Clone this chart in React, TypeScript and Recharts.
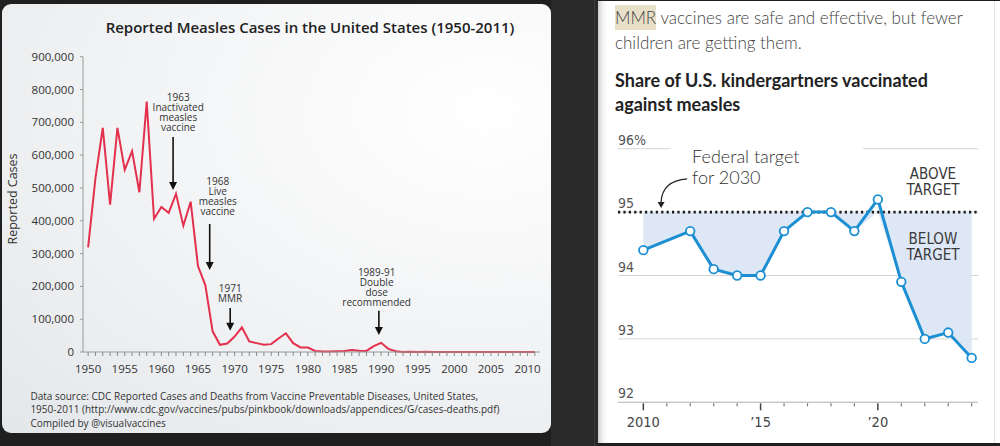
import React from 'react';
import {
  LineChart, Line, XAxis, YAxis, ReferenceLine, ReferenceDot, ComposedChart, Area, CartesianGrid,
} from 'recharts';

// Left chart: reported measles cases in the US
const caseYears = [
  1950, 1951, 1952, 1953, 1954, 1955, 1956, 1957, 1958, 1959,
  1960, 1961, 1962, 1963, 1964, 1965, 1966, 1967, 1968, 1969,
  1970, 1971, 1972, 1973, 1974, 1975, 1976, 1977, 1978, 1979,
  1980, 1981, 1982, 1983, 1984, 1985, 1986, 1987, 1988, 1989,
  1990, 1991, 1992, 1993, 1994, 1995, 1996, 1997, 1998, 1999,
  2000, 2001, 2002, 2003, 2004, 2005, 2006, 2007, 2008, 2009,
  2010, 2011,
];
const caseCounts = [
  319000, 530000, 683000, 449000, 683000, 555000, 612000, 487000, 763000, 406000,
  442000, 424000, 482000, 385000, 458000, 262000, 204000, 63000, 22000, 26000,
  47000, 75000, 32000, 27000, 22000, 24000, 41000, 57000, 27000, 14000,
  13500, 3000, 1700, 1500, 2600, 2800, 6300, 3700, 3400, 18000,
  28000, 9600, 2200, 300, 1000, 300, 500, 140, 100, 100,
  90, 120, 40, 60, 40, 70, 55, 40, 140, 70,
  60, 220,
];
const caseTicks = [0, 100000, 200000, 300000, 400000, 500000, 600000, 700000, 800000, 900000];

// annotations on the left chart
const noteLabels = [
  ['1963', 'Inactivated', 'measles', 'vaccine'],
  ['1968', 'Live', 'measles', 'vaccine'],
  ['1971', 'MMR'],
  ['1989-91', 'Double', 'dose', 'recommended'],
];
const noteTextYears = [1962.3, 1967.7, 1969.4, 1989.4];
const noteTextValues = [776000, 519000, 195000, 243000];
const noteArrowYears = [1961.6, 1966.6, 1969.4, 1989.7];
const noteArrowTops = [655000, 390000, 134000, 126000];
const noteArrowTips = [494000, 250000, 65000, 52000];

// Right chart: share of kindergartners vaccinated
const vacYears = [2010, 2012, 2013, 2014, 2015, 2016, 2017, 2018, 2019, 2020, 2021, 2022, 2023, 2024];
const vacShares = [94.4, 94.7, 94.1, 94.0, 94.0, 94.7, 95.0, 95.0, 94.7, 95.2, 93.9, 93.0, 93.1, 92.7];
const targetShare = 95;
const shareTicks = [92, 93, 94, 95, 96];
const schoolYearTicks = [2010, 2011, 2012, 2013, 2014, 2015, 2016, 2017, 2018, 2019, 2020, 2021, 2022, 2023, 2024];

const caseData = caseYears.map((year, i) => ({ year, cases: caseCounts[i] }));
const vacData = vacYears.map((year, i) => ({
  year,
  share: vacShares[i],
  gap: [Math.min(vacShares[i], targetShare), targetShare],
}));

const LEFT_FONT = '"Open Sans", "DejaVu Sans", sans-serif';
const RIGHT_FONT = 'Lato, "Noto Sans", sans-serif';
const NARROW_FONT = '"Liberation Sans Narrow", "DejaVu Sans Condensed", Roboto, sans-serif';

const YearTick = (props: any) => {
  const { x, y, payload } = props;
  const v = payload.value;
  return (
    <g>
      <line x1={x} y1={y} x2={x} y2={y + 4} stroke="#8a8a8a" />
      {v % 5 === 0 && (
        <text x={x} y={y + 20.5} textAnchor="middle" fontSize={11.5} fill="#333" fontFamily={LEFT_FONT}>{v}</text>
      )}
    </g>
  );
};

const Arrow = (props: any) => {
  const { x1, y1, x2, y2 } = props;
  return (
    <g>
      <line x1={x1} y1={y1} x2={x2} y2={y2 - 6} stroke="#111" strokeWidth={1.6} />
      <polygon points={`${x2 - 4},${y2 - 8} ${x2 + 4},${y2 - 8} ${x2},${y2}`} fill="#111" />
    </g>
  );
};

const noteShape = (lines: string[]) => (props: any) => (
  <text x={props.cx} y={props.cy} textAnchor="middle" fontSize={10} fill="#333" fontFamily={LEFT_FONT}>
    {lines.map((l, i) => (
      <tspan key={i} x={props.cx} dy={i === 0 ? 3.5 : 10}>{l}</tspan>
    ))}
  </text>
);

const ShareTick = (props: any) => {
  const { x, y, payload } = props;
  return (
    <text x={x} y={y - 4} fontSize={14} fill="#555" fontFamily={NARROW_FONT}>
      {payload.value === 96 ? '96%' : payload.value}
    </text>
  );
};

const SchoolYearTick = (props: any) => {
  const { x, y, payload } = props;
  const v = payload.value;
  const major = v % 5 === 0;
  return (
    <g>
      <line x1={x} y1={y + 1} x2={x} y2={y + (major ? 8 : 4)} stroke={major ? '#444' : '#777'} strokeWidth={major ? 1.5 : 1.2} />
      {major && (
        <text x={x} y={y + 24.5} textAnchor="middle" fontSize={14.5} fill="#444" fontFamily={NARROW_FONT}>
          {v === 2010 ? '2010' : '\u2019' + String(v).slice(2)}
        </text>
      )}
    </g>
  );
};

const federalNote = (props: any) => {
  const { cx, cy } = props;
  const tx = cx - 31;
  const ty = cy + 51;
  return (
    <g>
      <rect x={cx - 22} y={cy - 12} width={193} height={7} fill="#fff" />
      <text x={cx} y={cy + 6} fontSize={18} fill="#333" fontFamily={RIGHT_FONT} fontWeight={300}>Federal target</text>
      <text x={cx} y={cy + 27} fontSize={18} fill="#333" fontFamily={RIGHT_FONT} fontWeight={300}>for 2030</text>
      <path d={`M ${cx - 5} ${cy + 22} Q ${cx - 30} ${cy + 24} ${tx} ${ty - 6}`} fill="none" stroke="#222" strokeWidth={1.2} />
      <polygon points={`${tx - 3.5},${ty - 6} ${tx + 3.5},${ty - 6} ${tx},${ty}`} fill="#222" />
    </g>
  );
};

const zoneNote = (lines: string[]) => (props: any) => (
  <text x={props.cx} y={props.cy} textAnchor="middle" fontSize={15} fill="#3a3a3a" fontFamily={NARROW_FONT}>
    {lines.map((l, i) => (
      <tspan key={i} x={props.cx} dy={i === 0 ? 5 : 15.5}>{l}</tspan>
    ))}
  </text>
);

export default function App() {
  return (
    <div style={{ position: 'absolute', left: 0, top: 0, width: 1000, height: 446, background: '#1f1f1f', overflow: 'hidden' }}>
      {/* left card */}
      <div
        style={{
          position: 'absolute', left: 2, top: 4, width: 549, height: 429, borderRadius: 9, overflow: 'hidden',
          background: 'radial-gradient(ellipse at 88% 25%, #ffffff 0%, #f5f6f7 40%, #e4e7ea 100%)',
        }}
      >
        <div
          style={{
            position: 'absolute', left: 0, top: 13, width: 616, textAlign: 'center', fontFamily: LEFT_FONT,
            fontSize: 15, fontWeight: 600, color: '#222', lineHeight: '20px',
          }}
        >
          Reported Measles Cases in the United States (1950-2011)
        </div>
        <div
          style={{
            position: 'absolute', left: 10.7 - 60, top: 195 - 8, width: 120, textAlign: 'center', fontFamily: LEFT_FONT,
            fontSize: 12.5, color: '#333', lineHeight: '16px', transform: 'rotate(-90deg)',
          }}
        >
          Reported Cases
        </div>
        <LineChart
          width={549}
          height={428}
          data={caseData}
          margin={{ top: 52.7, right: 11, bottom: 50, left: 0 }}
          style={{ position: 'absolute', left: 0, top: 0 }}
        >
          <XAxis
            dataKey="year"
            type="number"
            domain={[1949.3, 2011.7]}
            ticks={caseYears}
            interval={0}
            tick={<YearTick />}
            tickLine={false}
            tickSize={0}
            tickMargin={0}
            height={30}
            axisLine={{ stroke: '#9a9a9a' }}
          />
          <YAxis
            domain={[0, 900000]}
            ticks={caseTicks}
            width={81}
            tickSize={3}
            tickMargin={6}
            tickFormatter={(v: number) => v.toLocaleString('en-US')}
            tick={{ fontSize: 11.5, fill: '#333', fontFamily: LEFT_FONT }}
            tickLine={{ stroke: '#9a9a9a' }}
            axisLine={{ stroke: '#9a9a9a' }}
          />
          <Line type="linear" dataKey="cases" stroke="#e3304d" strokeWidth={2} dot={false} isAnimationActive={false} />
          {noteArrowYears.map((yr, i) => (
            <ReferenceLine
              key={'a' + i}
              segment={[{ x: yr, y: noteArrowTops[i] }, { x: yr, y: noteArrowTips[i] }]}
              shape={<Arrow />}
            />
          ))}
          {noteLabels.map((lines, i) => (
            <ReferenceDot key={'n' + i} x={noteTextYears[i]} y={noteTextValues[i]} r={0} shape={noteShape(lines)} />
          ))}
        </LineChart>
        <div
          style={{
            position: 'absolute', left: 28.4, top: 386, fontFamily: LEFT_FONT, fontSize: 10, color: '#333',
            lineHeight: '13.4px', whiteSpace: 'nowrap',
          }}
        >
          <div>Data source: CDC Reported Cases and Deaths from Vaccine Preventable Diseases, United States,</div>
          <div>1950-2011 (http://www.cdc.gov/vaccines/pubs/pinkbook/downloads/appendices/G/cases-deaths.pdf)</div>
          <div>Compiled by @visualvaccines</div>
        </div>
      </div>

      {/* divider strip */}
      <div style={{ position: 'absolute', left: 551, top: 0, width: 47, height: 446, background: '#2a2a2a' }} />
      <div style={{ position: 'absolute', left: 594, top: 0, width: 1, height: 446, background: '#3b3b3b' }} />

      {/* right card */}
      <div
        style={{
          position: 'absolute', left: 598, top: 1, width: 402, height: 442, overflow: 'hidden',
          background: 'linear-gradient(to right, #cfcfcf 0px, #f4f4f4 5px, #ffffff 10px)',
        }}
      >
        <div style={{ position: 'absolute', left: 396, top: 0, width: 1, height: 442, background: '#e6e6e6' }} />
        <div
          style={{
            position: 'absolute', left: 17, top: 4, fontFamily: RIGHT_FONT, fontWeight: 300, fontSize: 17,
            color: '#444', lineHeight: '25px', whiteSpace: 'nowrap',
          }}
        >
          <div>
            <span style={{ background: '#e8dfc9', padding: '2px 0' }}>MMR</span> vaccines are safe and effective, but fewer
          </div>
          <div>children are getting them.</div>
        </div>
        <div
          style={{
            position: 'absolute', left: 17, top: 67, fontFamily: RIGHT_FONT, fontWeight: 700, fontSize: 18,
            color: '#222', lineHeight: '24px', whiteSpace: 'nowrap',
          }}
        >
          <div>Share of U.S. kindergartners vaccinated</div>
          <div>against measles</div>
        </div>
        <ComposedChart
          width={402}
          height={442}
          data={vacData}
          margin={{ top: 147.7, right: 22, bottom: 10.7, left: 0 }}
          style={{ position: 'absolute', left: 0, top: 0 }}
        >
          <CartesianGrid vertical={false} stroke="#d4d4d4" />
          <XAxis
            dataKey="year"
            type="number"
            domain={[2008.92, 2024.27]}
            ticks={schoolYearTicks}
            interval={0}
            tick={<SchoolYearTick />}
            tickLine={false}
            tickSize={0}
            tickMargin={0}
            height={30}
            axisLine={{ stroke: '#bdbdbd' }}
          />
          <YAxis
            domain={[92, 96]}
            ticks={shareTicks}
            width={20}
            tick={<ShareTick />}
            tickLine={false}
            tickSize={0}
            tickMargin={0}
            axisLine={false}
          />
          <Area type="linear" dataKey="gap" stroke="none" fill="#dde7f5" fillOpacity={1} isAnimationActive={false} />
          <ReferenceLine y={targetShare} stroke="#1a1a1a" strokeWidth={2.6} strokeDasharray="2.2 3.2" />
          <Line
            type="linear"
            dataKey="share"
            stroke="#1b8fd2"
            strokeWidth={3}
            dot={{ r: 4.3, fill: '#fff', stroke: '#1b8fd2', strokeWidth: 1.8 }}
            isAnimationActive={false}
          />
          <ReferenceDot x={2012.08} y={95.87} r={0} shape={federalNote} />
          <ReferenceDot x={2022.35} y={95.6} r={0} shape={zoneNote(['ABOVE', 'TARGET'])} />
          <ReferenceDot x={2022.35} y={94.57} r={0} shape={zoneNote(['BELOW', 'TARGET'])} />
        </ComposedChart>
      </div>
    </div>
  );
}
